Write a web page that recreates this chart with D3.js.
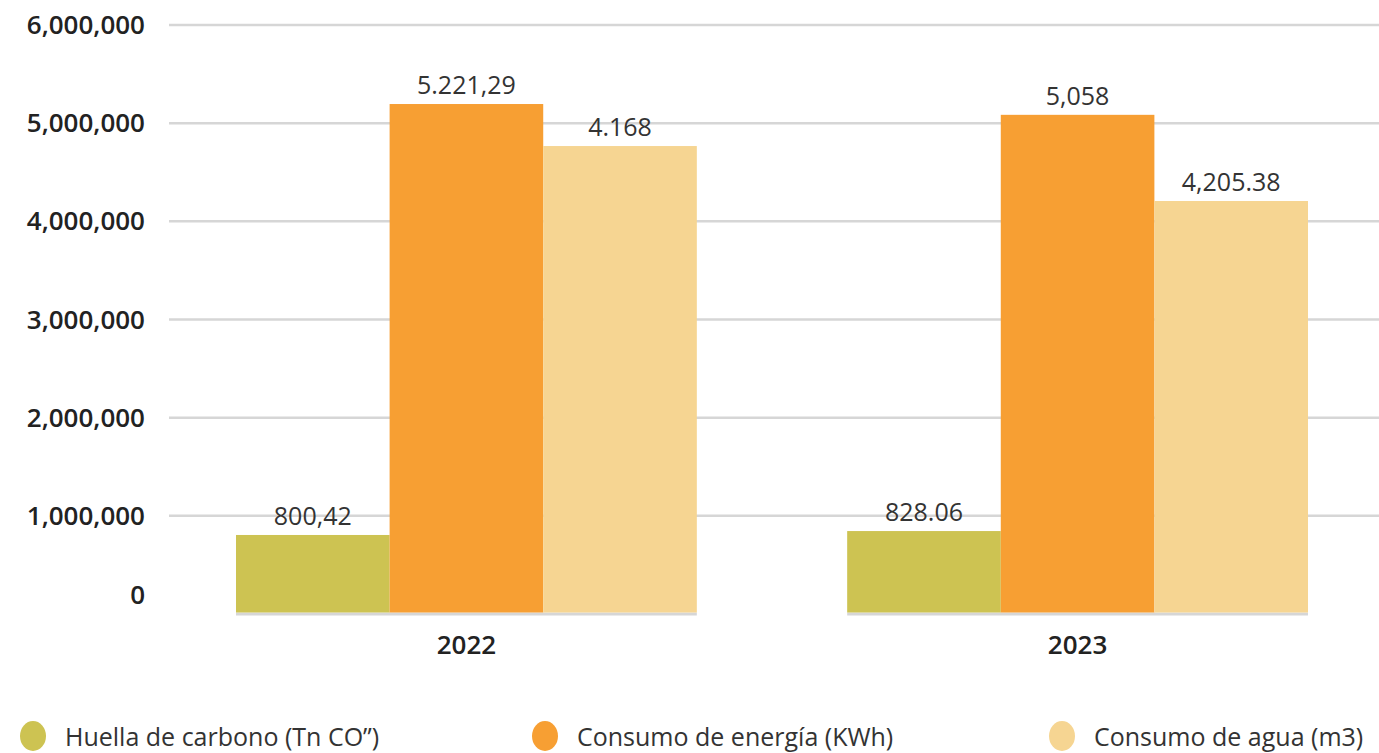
<!DOCTYPE html>
<html>
<head>
<meta charset="utf-8">
<script src="https://cdn.jsdelivr.net/npm/d3@7"></script>
<style>
  body { margin: 0; background: #fff; }
  svg { display: block; }
</style>
</head>
<body>
<div id="chart"></div>
<script>
// data
var years = ["2022", "2023"];
var seriesNames = ["Huella de carbono (Tn CO\u201D)", "Consumo de energía (KWh)", "Consumo de agua (m3)"];
var carbono = [805000, 845000];
var energia = [5195000, 5085000];
var agua = [4767000, 4207000];
var carbonoLabels = ["800,42", "828.06"];
var energiaLabels = ["5.221,29", "5,058"];
var aguaLabels = ["4.168", "4,205.38"];
var yTicks = [0, 1000000, 2000000, 3000000, 4000000, 5000000, 6000000];

var colors = ["#CDC352", "#F79F33", "#F6D592"];

var svgWidth = 1379, svgHeight = 753;

var svg = d3.select("#chart").append("svg")
  .attr("width", svgWidth)
  .attr("height", svgHeight);

var y = d3.scaleLinear().domain([0, 6000000]).range([614, 25]);

var x0 = d3.scaleBand().domain(years).range([236, 1308]).paddingInner(0.246).paddingOuter(0);
var x1 = d3.scaleBand().domain(d3.range(3)).range([0, x0.bandwidth()]);

// gridlines
svg.append("g").selectAll("line")
  .data(yTicks.filter(d => d > 0))
  .join("line")
  .attr("x1", 169).attr("x2", svgWidth)
  .attr("y1", d => y(d)).attr("y2", d => y(d))
  .attr("stroke", "#d6d6d6").attr("stroke-width", 2.5);

// y labels
svg.append("g").selectAll("text")
  .data(yTicks)
  .join("text")
  .attr("x", 145)
  .attr("y", d => d === 0 ? y(d) - 19 : y(d))
  .attr("dy", "0.35em")
  .attr("text-anchor", "end")
  .attr("font-family", "Open Sans, sans-serif")
  .attr("font-weight", 600)
  .attr("font-size", 26)
  .attr("fill", "#222")
  .text(d => d3.format(",")(d));

var rows = years.map(function(yr, i) {
  return [
    { year: yr, k: 0, v: carbono[i], label: carbonoLabels[i] },
    { year: yr, k: 1, v: energia[i], label: energiaLabels[i] },
    { year: yr, k: 2, v: agua[i], label: aguaLabels[i] }
  ];
});

var groups = svg.append("g").selectAll("g")
  .data(rows)
  .join("g")
  .attr("transform", (d, i) => `translate(${x0(years[i])},0)`);

// baseline under each group
groups.append("line")
  .attr("x1", 0).attr("x2", x0.bandwidth())
  .attr("y1", y(0)).attr("y2", y(0))
  .attr("stroke", "#d6d6d6").attr("stroke-width", 3);

groups.selectAll("rect")
  .data(d => d)
  .join("rect")
  .attr("x", d => x1(d.k))
  .attr("y", d => y(d.v))
  .attr("width", x1.bandwidth())
  .attr("height", d => y(0) - 1.5 - y(d.v))
  .attr("fill", d => colors[d.k]);

groups.selectAll("text.val")
  .data(d => d)
  .join("text")
  .attr("class", "val")
  .attr("x", d => x1(d.k) + x1.bandwidth() / 2)
  .attr("y", d => y(d.v) - 10)
  .attr("text-anchor", "middle")
  .attr("font-family", "Open Sans, sans-serif")
  .attr("font-size", 25)
  .attr("fill", "#333")
  .text(d => d.label);

// x labels
svg.append("g").selectAll("text")
  .data(years)
  .join("text")
  .attr("x", d => x0(d) + x0.bandwidth() / 2)
  .attr("y", 645)
  .attr("dy", "0.35em")
  .attr("text-anchor", "middle")
  .attr("font-family", "Open Sans, sans-serif")
  .attr("font-weight", 600)
  .attr("font-size", 26)
  .attr("fill", "#222")
  .text(d => d);

// legend
var legendX = [33, 545, 1062];
var legend = svg.append("g").selectAll("g")
  .data(seriesNames)
  .join("g")
  .attr("transform", (d, i) => `translate(${legendX[i]},736)`);

legend.append("ellipse")
  .attr("rx", 13).attr("ry", 15)
  .attr("fill", (d, i) => colors[i]);

legend.append("text")
  .attr("x", 32)
  .attr("y", 1)
  .attr("dy", "0.35em")
  .attr("font-family", "Open Sans, sans-serif")
  .attr("font-size", 25)
  .attr("fill", "#333")
  .text(d => d);
</script>
</body>
</html>
